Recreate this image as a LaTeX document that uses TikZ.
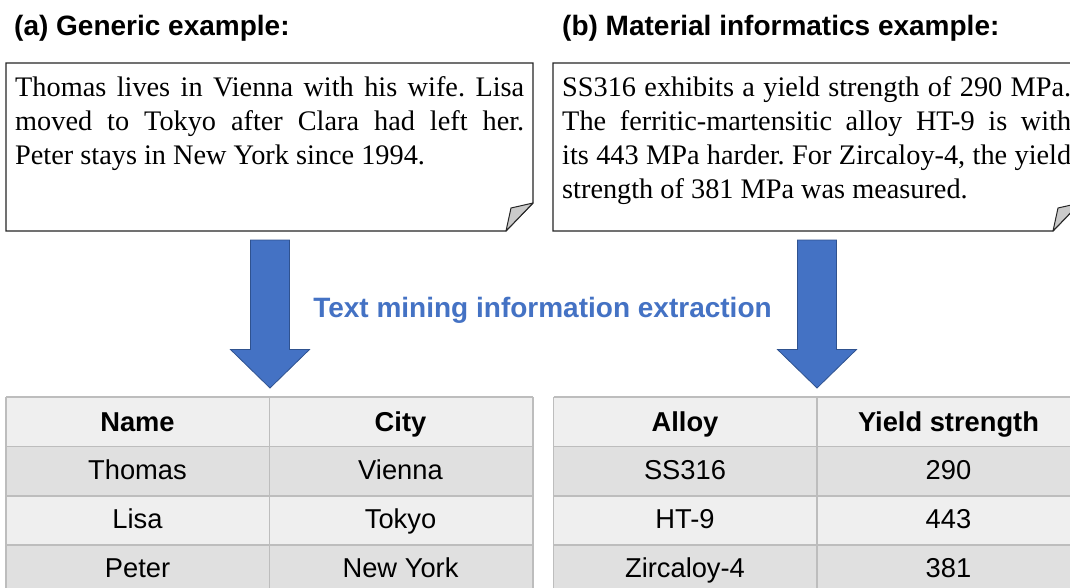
\documentclass[tikz,border=0pt]{standalone}
\usepackage{fontspec}
\setmainfont{Liberation Serif}
\setsansfont{Liberation Sans}
\definecolor{arrowblue}{HTML}{4472C4}
\definecolor{arrowedge}{HTML}{2F528F}
\definecolor{hdrgray}{HTML}{EFEFEF}
\definecolor{rowgray}{HTML}{E0E0E0}
\definecolor{gridgray}{HTML}{BDBDBD}
\definecolor{foldgray}{HTML}{CACACA}
\hbadness=10000
\frenchspacing
\newcommand\jline[1]{\hbox to 509pt{#1}}
\tikzset{
  boxline/.style={draw=black!85, line width=1.1pt, fill=white},
  foldline/.style={draw=black!85, line width=1pt, fill=foldgray, line join=round},
  titletext/.style={inner sep=0pt, font=\fontsize{28}{33}\selectfont\sffamily\bfseries},
  boxtext/.style={inner sep=0pt, font=\fontsize{28.3}{34}\selectfont\rmfamily},
  midtext/.style={inner sep=0pt, text=arrowblue, font=\fontsize{28}{34}\selectfont\sffamily\bfseries},
  tabhead/.style={inner sep=0pt, anchor=base, font=\fontsize{27.3}{32}\selectfont\sffamily\bfseries},
  tabcell/.style={inner sep=0pt, anchor=base, font=\fontsize{27.3}{32}\selectfont\sffamily},
  gridline/.style={draw=gridgray, line width=1.5pt},
  blockarrow/.style={fill=arrowblue, draw=arrowedge, line width=0.8pt, line join=miter},
  notebox/.pic={
    \path[boxline] (0,0) -- (527,0) -- (527,140) -- (500,168) -- (0,168) -- cycle;
    \path[foldline] (527,140) -- (505,145) -- (500,168) -- cycle;
  },
  downarrow/.pic={
    \path[blockarrow] (-19.5,0) -- (19.5,0) -- (19.5,109.5) -- (39.5,109.5) -- (0,148)
      -- (-39.5,109.5) -- (-19.5,109.5) -- cycle;
  },
  datatable/.pic={
    \fill[hdrgray] (0,0) rectangle (527,49.5);
    \fill[rowgray] (0,49.5) rectangle (527,98.8);
    \fill[hdrgray] (0,98.8) rectangle (527,148);
    \fill[rowgray] (0,148) rectangle (527,200);
    \foreach \yy in {0,49.5,98.8,148} {\path[gridline] (0,\yy) -- (527,\yy);}
    \path[gridline] (0,0) -- (0,200);
    \path[gridline] (263.5,0) -- (263.5,200);
    \path[gridline] (527,0) -- (527,200);
  }
}
\begin{document}
\begin{tikzpicture}[x=1pt,y=-1pt]
\clip (0,0) rectangle (1070,587);
\fill[white] (0,0) rectangle (1070,587);

% titles
\node[titletext, anchor=base west] (titleA) at (14,35.5) {(a) Generic example:};
\node[titletext, anchor=base west] (titleB) at (562,35.5) {(b) Material informatics example:};

% note boxes
\pic (noteA) at (6,63) {notebox};
\pic (noteB) at (553,63) {notebox};

\node[boxtext, anchor=base west] (a1) at (15,96.5) {\jline{Thomas lives in Vienna with his wife. Lisa}};
\node[boxtext, anchor=base west] (a2) at (15,130.5) {\jline{moved to Tokyo after Clara had left her.}};
\node[boxtext, anchor=base west] (a3) at (15,164.5) {Peter stays in New York since 1994.};

\node[boxtext, anchor=base west] (b1) at (562,96.5) {\jline{SS316 exhibits a yield strength of 290 MPa.}};
\node[boxtext, anchor=base west] (b2) at (562,130.5) {\jline{The ferritic-martensitic alloy HT-9 is with}};
\node[boxtext, anchor=base west] (b3) at (562,164.5) {\jline{its 443 MPa harder. For Zircaloy-4, the yield}};
\node[boxtext, anchor=base west] (b4) at (562,198.5) {strength of 381 MPa was measured.};

% arrows
\pic (arrowA) at (270,240) {downarrow};
\pic (arrowB) at (817,240) {downarrow};
\node[midtext, anchor=base] (mid) at (542.5,317) {Text mining information extraction};

% tables
\pic (tableA) at (6,397) {datatable};
\pic (tableB) at (553.5,397) {datatable};

\node[tabhead] (hName) at (137.5,431) {Name};
\node[tabhead] (hCity) at (400.5,431) {City};
\node[tabcell] (cThomas) at (137.5,479.5) {Thomas};
\node[tabcell] (cVienna) at (400.5,479.5) {Vienna};
\node[tabcell] (cLisa) at (137.5,528.5) {Lisa};
\node[tabcell] (cTokyo) at (400.5,528.5) {Tokyo};
\node[tabcell] (cPeter) at (137.5,577.5) {Peter};
\node[tabcell] (cNY) at (400.5,577.5) {New York};

\node[tabhead] (hAlloy) at (685,431) {Alloy};
\node[tabhead] (hYield) at (948.5,431) {Yield strength};
\node[tabcell] (cSS) at (685,479.5) {SS316};
\node[tabcell] (c290) at (948.5,479.5) {290};
\node[tabcell] (cHT) at (685,528.5) {HT-9};
\node[tabcell] (c443) at (948.5,528.5) {443};
\node[tabcell] (cZr) at (685,577.5) {Zircaloy-4};
\node[tabcell] (c381) at (948.5,577.5) {381};
\end{tikzpicture}
\end{document}
